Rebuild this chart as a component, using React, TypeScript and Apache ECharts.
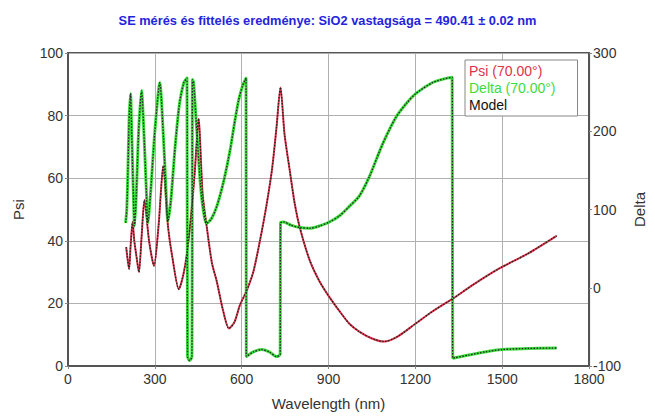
import React, { useEffect, useRef } from "react";
import * as echarts from "echarts";

const titleText = "SE mérés és fittelés eredménye: SiO2 vastagsága = 490.41 ± 0.02 nm";
const psiName = "Psi (70.00°)";
const deltaName = "Delta (70.00°)";
const modelName = "Model";

const psiWl = [201, 206, 211, 216, 223, 229, 235, 245, 254, 264, 280, 297, 313, 329, 345, 360, 383, 398, 411, 425, 438, 451, 465, 480, 497, 514, 535, 556, 575, 594, 617, 640, 663, 685, 705, 720, 734, 748, 766, 783, 800, 834, 869, 903, 938, 972, 1006, 1050, 1092, 1140, 1200, 1260, 1329, 1400, 1487, 1590, 1688];
const psiVal = [38, 34, 31, 38, 46, 40, 36, 30, 41, 53, 40, 32, 45, 64, 45, 35, 24.5, 29, 36, 48, 62, 79, 55, 44, 33, 27, 18, 12, 14, 19.5, 24, 30, 40, 51, 63, 76, 89, 74, 62.5, 52, 44.5, 34, 27, 22, 17.5, 13.5, 11, 8.8, 7.8, 9.5, 13.5, 17.5, 21.5, 26, 31, 36, 41.6];

const deltaWl = [199, 203, 207, 211, 216, 220, 225, 230, 236, 244, 254, 262, 270, 276, 285, 300, 317, 330, 338, 345, 355, 370, 385, 400, 411, 413, 420, 428, 430, 434, 445, 457, 467, 478, 495, 514, 537, 560, 575, 589, 603, 615, 616, 640, 669, 695, 720, 733, 734, 745, 770, 800, 835, 869, 903, 938, 972, 1006, 1041, 1087, 1133, 1170, 1201, 1258, 1300, 1327, 1329, 1384, 1440, 1499, 1590, 1688];
const deltaVal = [83, 100, 150, 215, 248, 200, 130, 79, 120, 200, 252, 200, 130, 83, 120, 200, 262, 190, 130, 85, 110, 180, 235, 262, 268, -88, -93, -88, 266, 262, 200, 134, 100, 82, 88, 104, 135, 176, 210, 239, 258, 268, -88, -82, -79, -82, -88, -85, 83, 84, 80, 77, 76, 79, 84, 92, 104, 117, 142, 184, 218, 236, 248, 262, 267, 269, -90, -86, -82, -79, -77.5, -77];

const pairs = (xs: number[], ys: number[]) => xs.map((x, i) => [x, ys[i]]);

export default function App() {
  const ref = useRef<HTMLDivElement>(null);
  useEffect(() => {
    if (!ref.current) return;
    const chart = echarts.init(ref.current, undefined, { renderer: "svg" });
    const font = "Liberation Sans, Arial, sans-serif";
    const psiData = pairs(psiWl, psiVal);
    const deltaData = pairs(deltaWl, deltaVal);
    const axisLabel = { color: "#333", fontSize: 14, fontFamily: font, margin: 5 };
    const nameStyle = { color: "#333", fontSize: 15, fontFamily: font };
    chart.setOption({
      animation: false,
      backgroundColor: "#ffffff",
      title: {
        text: titleText,
        left: "center",
        top: 9,
        textStyle: { color: "#2424dc", fontSize: 12.8, fontWeight: "bold", fontFamily: font },
      },
      legend: {
        orient: "vertical",
        left: 465,
        top: 60,
        padding: [3, 22, 3, 4],
        itemGap: 1,
        itemWidth: 0,
        itemHeight: 0,
        backgroundColor: "#ffffff",
        borderColor: "#888",
        borderWidth: 1,
        borderRadius: 0,
        selectedMode: false,
        data: [
          { name: psiName, icon: "none", textStyle: { color: "#dd3348" } },
          { name: deltaName, icon: "none", textStyle: { color: "#3ddc3d" } },
          { name: modelName, icon: "none", textStyle: { color: "#111" } },
        ],
        textStyle: { fontSize: 14, fontFamily: font, padding: [0, 0, 0, -5], lineHeight: 16 },
      },
      grid: {
        left: 68,
        right: 64,
        top: 53,
        bottom: 48,
        show: true,
        borderColor: "#555",
        borderWidth: 2,
        backgroundColor: "#ffffff",
      },
      xAxis: {
        type: "value",
        min: 0,
        max: 1800,
        interval: 300,
        name: "Wavelength (nm)",
        nameLocation: "middle",
        nameGap: 30,
        nameTextStyle: nameStyle,
        axisLine: { show: true, lineStyle: { color: "#555", width: 2 } },
        axisTick: { show: true, length: 3, lineStyle: { color: "#888" } },
        axisLabel: { ...axisLabel, margin: 6, formatter: (v: number) => String(v) },
        splitLine: { show: true, lineStyle: { color: "#b0b0b0", width: 1 } },
      },
      yAxis: [
        {
          type: "value",
          min: 0,
          max: 100,
          interval: 20,
          position: "left",
          name: "Psi",
          nameLocation: "middle",
          nameGap: 42,
          nameRotate: 90,
          nameTextStyle: nameStyle,
          axisLine: { show: true, lineStyle: { color: "#555", width: 2 } },
          axisTick: { show: true, length: 3, lineStyle: { color: "#888" } },
          axisLabel,
          splitLine: { show: true, lineStyle: { color: "#b0b0b0", width: 1 } },
        },
        {
          type: "value",
          min: -100,
          max: 300,
          interval: 100,
          position: "right",
          name: "Delta",
          nameLocation: "middle",
          nameGap: 42,
          nameRotate: 90,
          nameTextStyle: nameStyle,
          axisLine: { show: true, lineStyle: { color: "#555", width: 2 } },
          axisTick: { show: true, length: 3, lineStyle: { color: "#888" } },
          axisLabel: { ...axisLabel, margin: 4 },
          splitLine: { show: false },
        },
      ],
      series: [
        {
          name: psiName,
          type: "line",
          data: psiData,
          yAxisIndex: 0,
          showSymbol: false,
          smooth: 0.25,
          lineStyle: { color: "#dd3348", width: 2 },
          itemStyle: { color: "#dd3348" },
          z: 2,
        },
        {
          name: deltaName,
          type: "line",
          data: deltaData,
          yAxisIndex: 1,
          showSymbol: false,
          smooth: 0.25,
          lineStyle: { color: "#3ddc3d", width: 3 },
          itemStyle: { color: "#3ddc3d" },
          z: 3,
        },
        {
          name: modelName,
          type: "line",
          data: psiData,
          yAxisIndex: 0,
          showSymbol: false,
          smooth: 0.25,
          lineStyle: { color: "#222", width: 1.3, type: [1.5, 1.5] },
          itemStyle: { color: "#222" },
          z: 4,
        },
        {
          name: modelName,
          type: "line",
          data: deltaData,
          yAxisIndex: 1,
          showSymbol: false,
          smooth: 0.25,
          lineStyle: { color: "#222", width: 1.3, type: [1.5, 1.5] },
          itemStyle: { color: "#222" },
          z: 4,
        },
      ],
    });
    return () => chart.dispose();
  }, []);
  return (
    <div
      ref={ref}
      style={{ position: "fixed", left: 0, top: 0, width: 655, height: 416, background: "#fff" }}
    />
  );
}
